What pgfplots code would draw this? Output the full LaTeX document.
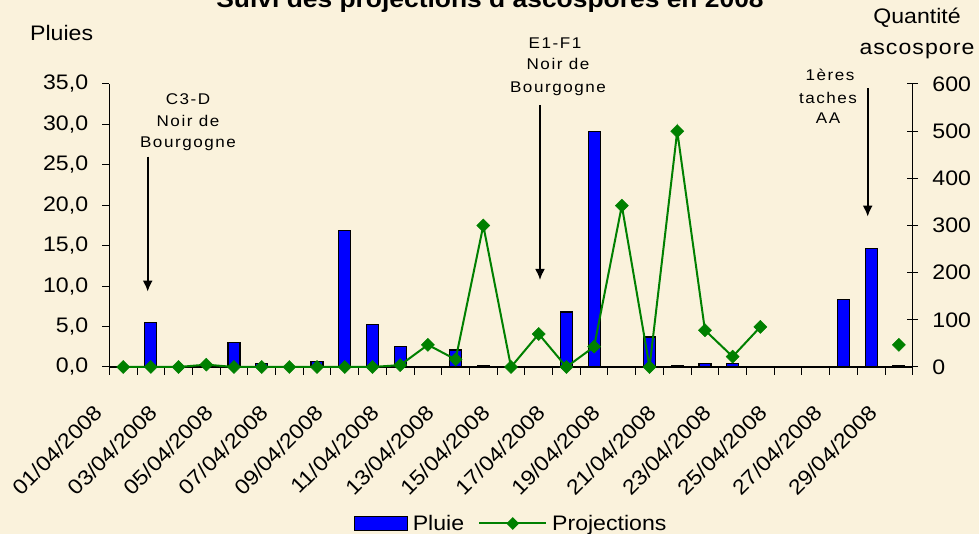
\documentclass[border=0pt]{standalone}
\usepackage{pgfplots}
\pgfplotsset{compat=1.18}
\usepackage{fontspec}
\setmainfont[FakeStretch=1.1]{Liberation Sans}
\newfontfamily\annfont[FakeStretch=1.1,LetterSpace=10]{Liberation Sans}
\newfontfamily\spacedfont[FakeStretch=1.1,LetterSpace=5]{Liberation Sans}
\usetikzlibrary{arrows.meta}
\definecolor{bg}{RGB}{250,242,220}
\definecolor{barblue}{RGB}{0,0,255}
\definecolor{projgreen}{RGB}{0,128,0}
\newcommand{\bigf}{\fontsize{21bp}{25bp}\selectfont}
\newcommand{\annf}{\annfont\fontsize{15.5bp}{19bp}\selectfont}

\begin{document}
\begin{tikzpicture}[x=1bp,y=1bp]
\useasboundingbox (0,0) rectangle (979,534);
\clip (0,0) rectangle (979,534);
\fill[bg] (0,0) rectangle (979,534);

\begin{axis}[
  at={(109.3bp,167bp)}, anchor=south west, scale only axis,
  width=803.4bp, height=283bp,
  xmin=-0.5, xmax=28.5, ymin=0, ymax=35,
  axis x line*=bottom, axis y line*=left,
  axis line style={black, line width=1.1bp},
  every tick/.style={black, line width=1bp},
  xtick={0,2,...,28},
  xticklabels={01/04/2008,03/04/2008,05/04/2008,07/04/2008,09/04/2008,11/04/2008,13/04/2008,15/04/2008,17/04/2008,19/04/2008,21/04/2008,23/04/2008,25/04/2008,27/04/2008,29/04/2008},
  major x tick style={draw=none},
  minor xtick={-0.5,0.5,...,28.5},
  xtick align=outside,
  minor tick length=8bp,
  major tick length=7bp,
  ytick={0,5,...,35},
  ytick align=outside,
  yticklabel style={/pgf/number format/.cd, fixed, fixed zerofill, precision=1, use comma, /tikz/.cd, font=\bigf, anchor=east, inner sep=0pt, xshift=-14bp},
  xticklabel style={font=\bigf, xshift=-25bp, yshift=-35bp, rotate=45, anchor=east, inner sep=0pt},
  /pgf/number format/assume math mode=true,
  clip=false,
]
\addplot[ybar, bar width=12bp, fill=barblue, draw=black, line width=1.2bp] coordinates {
(1,5.5) (4,3.0) (5,0.4) (7,0.7) (8,16.9) (9,5.3) (10,2.5) (12,2.1) (13,0.2) (14,0.1)
(16,6.8) (17,29.1) (19,3.7) (20,0.2) (21,0.4) (22,0.4) (26,8.3) (27,14.7) (28,0.2)
};
\end{axis}

\begin{axis}[
  at={(109.3bp,167bp)}, anchor=south west, scale only axis,
  width=803.4bp, height=283bp,
  xmin=-0.5, xmax=28.5, ymin=0, ymax=600,
  axis x line=none, axis y line*=right,
  axis line style={black, line width=1.1bp},
  every tick/.style={black, line width=1bp},
  ytick={0,100,...,600},
  ytick align=center,
  major tick length=11bp,
  yticklabel style={font=\bigf, anchor=west, inner sep=0pt, xshift=14bp},
  /pgf/number format/assume math mode=true,
  unbounded coords=jump,
  clip=false,
  legend style={draw=none, fill=none, font=\bigf, at={(0.5,-0.553)}, anchor=center,
    legend columns=-1, inner sep=0pt,
    /tikz/every even column/.append style={column sep=12bp},
    /tikz/every odd column/.append style={column sep=3bp}},
]
\addlegendimage{legend image code/.code={\draw[fill=barblue,draw=black,line width=1.2bp] (0bp,-7bp) rectangle (53bp,7bp);}}
\addlegendentry{Pluie}
\addplot[projgreen, line width=2bp, mark=square*, mark size=4.6bp,
  mark options={rotate=45, fill=projgreen, draw=projgreen, line width=0.5bp},
  legend image code/.code={\draw[projgreen, line width=2bp] (0bp,0bp) -- (67bp,0bp); \fill[projgreen, rotate around={45:(33.5bp,0bp)}] (30bp,-3.5bp) rectangle (37bp,3.5bp);}]
coordinates {
(0,0) (1,0) (2,0) (3,5) (4,0) (5,0) (6,0) (7,0) (8,0) (9,0) (10,4) (11,47) (12,16) (13,300)
(14,0) (15,70) (16,0) (17,43) (18,342) (19,0) (20,500) (21,78) (22,22) (23,85)
(24,nan) (25,nan) (26,nan) (27,nan) (28,47)
};
\addlegendentry{Projections}
\end{axis}

% titles and labels
\node[anchor=base, font={\fontsize{24bp}{28bp}\selectfont\bfseries}] at (490,526) {Suivi des projections d'ascospores en 2008};
\node[anchor=base west, font=\bigf, inner sep=0pt] at (30,493) {Pluies};
\node[anchor=base, font=\bigf, inner sep=0pt] at (917,510.7) {Quantité};
\node[anchor=base, font={\spacedfont\fontsize{21bp}{25bp}\selectfont}, inner sep=0pt] at (917,479) {ascospore};

% annotations
\node[anchor=base, font=\annf, inner sep=0pt] at (188,429) {C3-D};
\node[anchor=base, font=\annf, inner sep=0pt] at (188,407.3) {Noir de};
\node[anchor=base, font=\annf, inner sep=0pt] at (188,386) {Bourgogne};
\draw[line width=2bp, -{Latex[length=11bp,width=10bp]}] (147.7,377.3) -- (147.7,242.3);

\node[anchor=base, font=\annf, inner sep=0pt] at (555,485) {E1-F1};
\node[anchor=base, font=\annf, inner sep=0pt] at (558,464) {Noir de};
\node[anchor=base, font=\annf, inner sep=0pt] at (558,441) {Bourgogne};
\draw[line width=2bp, -{Latex[length=11bp,width=10bp]}] (540,429) -- (540,254);

\node[anchor=base, font=\annf, inner sep=0pt] at (830,453.3) {1ères};
\node[anchor=base, font=\annf, inner sep=0pt] at (828,430.7) {taches};
\node[anchor=base, font=\annf, inner sep=0pt] at (828,410) {AA};
\draw[line width=2bp, -{Latex[length=11bp,width=10bp]}] (867.7,445.7) -- (867.7,317.3);
\end{tikzpicture}
\end{document}
